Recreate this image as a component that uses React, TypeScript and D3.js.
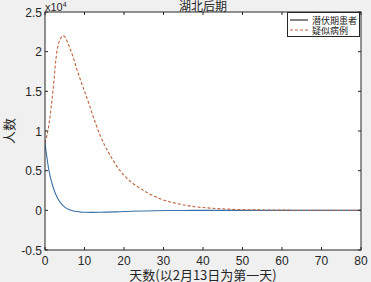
import * as d3 from "d3";

// 潜伏期患者: 天数 / 人数
const latentDays = [0, 1, 2, 3, 4, 5, 6, 7, 8, 9, 10, 12, 14, 16, 18, 20, 22, 25, 28, 31, 35, 40, 45, 50, 60, 70, 80];
const latent = [8500, 5000, 3000, 1700, 900, 400, 100, -50, -150, -220, -250, -260, -250, -220, -190, -150, -120, -80, -50, -30, -15, -5, 0, 0, 0, 0, 0];

// 疑似病例: 天数 / 人数
const suspectedDays = [0, 1, 2, 3, 4, 4.5, 5, 6, 7, 8, 9, 10, 11, 12, 13, 14, 15, 16, 17, 18, 19, 20, 22, 24, 26, 28, 30, 34, 38, 42, 47, 55, 65, 80];
const suspected = [8500, 10800, 15000, 20000, 21700, 22000, 21900, 20800, 19500, 17900, 16400, 15000, 13600, 12100, 10700, 9400, 8300, 7350, 6500, 5700, 5000, 4400, 3500, 2800, 2200, 1700, 1300, 800, 450, 280, 130, 50, 15, 0];

const xTicks = [0, 10, 20, 30, 40, 50, 60, 70, 80];
const yTicks = [-5000, 0, 5000, 10000, 15000, 20000, 25000];
const yTickLabels = ["-0.5", "0", "0.5", "1", "1.5", "2", "2.5"];

const W = 371;
const H = 282;
const M = { left: 45, right: 361, top: 12, bottom: 250 };
const axisColor = "#262626";
const font = "'Liberation Sans', Arial, 'Noto Sans CJK SC', sans-serif";
const cjk = "'Noto Sans CJK SC', 'Liberation Sans', sans-serif";

export default function App() {
  const x = d3.scaleLinear().domain([0, 80]).range([M.left, M.right]);
  const y = d3.scaleLinear().domain([-5000, 25000]).range([M.bottom, M.top]);

  const line = (xs: number[], vals: number[]) =>
    d3
      .line<number>()
      .x((_, i) => x(xs[i]))
      .y((d) => y(d))
      .curve(d3.curveMonotoneX)(vals) || "";

  const tl = 3;

  return (
    <svg
      width={W}
      height={H}
      style={{ position: "fixed", left: 0, top: 0, display: "block" }}
    >
      <rect x={0} y={0} width={W} height={H} fill="#f0f0f0" />
      <rect x={M.left} y={M.top} width={M.right - M.left} height={M.bottom - M.top} fill="#fff" />

      <defs>
        <clipPath id="plot">
          <rect x={M.left} y={M.top} width={M.right - M.left} height={M.bottom - M.top} />
        </clipPath>
      </defs>
      <g clipPath="url(#plot)">
        <path d={line(latentDays, latent)} fill="none" stroke="#3a72a8" strokeWidth={1.1} />
        <path
          d={line(suspectedDays, suspected)}
          fill="none"
          stroke="#c0623c"
          strokeWidth={1.1}
          strokeDasharray="3,2"
        />
      </g>

      {/* 坐标框 */}
      <rect
        x={M.left}
        y={M.top}
        width={M.right - M.left}
        height={M.bottom - M.top}
        fill="none"
        stroke={axisColor}
        strokeWidth={1}
      />

      {xTicks.map((t) => (
        <g key={"x" + t}>
          <line x1={x(t)} x2={x(t)} y1={M.bottom} y2={M.bottom - tl} stroke={axisColor} />
          <line x1={x(t)} x2={x(t)} y1={M.top} y2={M.top + tl} stroke={axisColor} />
          <text x={x(t)} y={264.5} textAnchor="middle" fontSize={12} fontFamily={font} fill={axisColor}>
            {t}
          </text>
        </g>
      ))}

      {yTicks.map((t, i) => (
        <g key={"y" + t}>
          <line x1={M.left} x2={M.left + tl} y1={y(t)} y2={y(t)} stroke={axisColor} />
          <line x1={M.right} x2={M.right - tl} y1={y(t)} y2={y(t)} stroke={axisColor} />
          <text
            x={42}
            y={y(t) + 4.5}
            textAnchor="end"
            fontSize={12}
            fontFamily={font}
            fill={axisColor}
          >
            {yTickLabels[i]}
          </text>
        </g>
      ))}

      {/* 指数 */}
      <text x={45} y={11} fontSize={11} fontFamily={font} fill={axisColor}>
        x10
        <tspan dy={-4} fontSize={7}>
          4
        </tspan>
      </text>

      {/* 标题 */}
      <text x={203} y={11} textAnchor="middle" fontSize={12} fontFamily={cjk} fill={axisColor}>
        湖北后期
      </text>

      {/* 轴标签 */}
      <text x={203} y={279.5} textAnchor="middle" fontSize={13} fontFamily={cjk} fill={axisColor}>
        天数(以2月13日为第一天)
      </text>
      <text
        transform={`translate(14, ${(M.top + M.bottom) / 2}) rotate(-90)`}
        textAnchor="middle"
        fontSize={13}
        fontFamily={cjk}
        fill={axisColor}
      >
        人数
      </text>

      {/* 图例 */}
      <g>
        <rect x={287.5} y={12.5} width={72} height={24} fill="#fff" stroke={axisColor} strokeWidth={1} />
        <line x1={290} x2={308} y1={20} y2={20} stroke="#222" strokeWidth={1.1} />
        <line x1={290} x2={308} y1={30} y2={30} stroke="#c0623c" strokeWidth={1.1} strokeDasharray="3,2" />
        <text x={312} y={23.5} fontSize={9} fontFamily={cjk} fill="#222">
          潜伏期患者
        </text>
        <text x={312} y={33.5} fontSize={9} fontFamily={cjk} fill="#222">
          疑似病例
        </text>
      </g>
    </svg>
  );
}
